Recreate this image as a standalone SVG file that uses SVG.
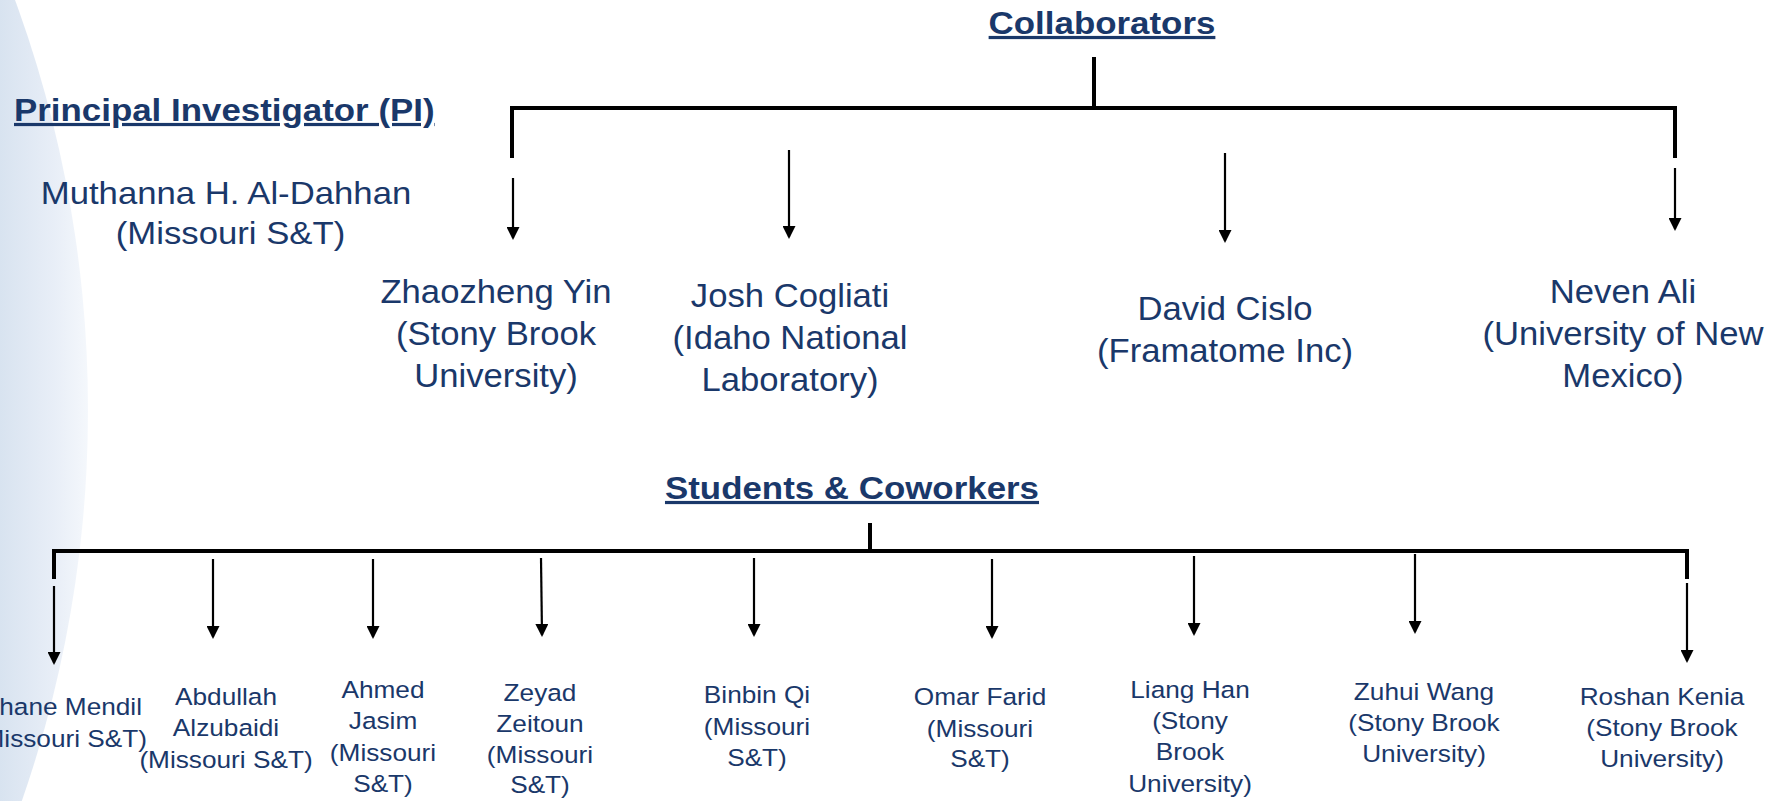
<svg xmlns="http://www.w3.org/2000/svg" width="1771" height="801" viewBox="0 0 1771 801">
  <style>
    .t { font-family: "Liberation Sans", Arial, sans-serif; fill: #1a386a; text-anchor: middle; }
    .hd { font-size: 32px; font-weight: bold; text-decoration: underline; }
    .pi { font-size: 31px; }
    .lg { font-size: 33px; }
    .sm { font-size: 24.5px; }
    .bar { fill: none; stroke: #000; stroke-width: 4; }
    .arr { stroke: #000; stroke-width: 2.2; marker-end: url(#head); }
  </style>
  <defs>
    <linearGradient id="wash" x1="0" y1="0" x2="90" y2="0" gradientUnits="userSpaceOnUse">
      <stop offset="0" stop-color="#d8e3f0"/>
      <stop offset="0.6" stop-color="#e8eef7"/>
      <stop offset="1" stop-color="#f5f8fc"/>
    </linearGradient>
    <marker id="head" markerUnits="userSpaceOnUse" markerWidth="13" markerHeight="13" refX="11" refY="6.5" orient="auto">
      <path d="M0,0 L13,6.5 L0,13 Z" fill="#000"/>
    </marker>
  </defs>

  <!-- page background with soft blue side wash -->
  <rect width="1771" height="801" fill="#fff"/>
  <circle cx="-1100" cy="410" r="1188" fill="url(#wash)"/>

  <!-- headers -->
  <g id="hdr-pi" class="t hd" transform="translate(14 121) scale(1.09 1)">
    <text x="0" y="0" style="text-anchor:start">Principal Investigator (PI)</text>
  </g>
  <g id="hdr-collab" class="t hd" transform="translate(1102 34) scale(1.09 1)">
    <text x="0" y="0">Collaborators</text>
  </g>
  <g id="hdr-students" class="t hd" transform="translate(852 499) scale(1.09 1)">
    <text x="0" y="0">Students &amp; Coworkers</text>
  </g>

  <!-- principal investigator -->
  <g id="n-aldahhan" class="t pi" transform="translate(226 204) scale(1.12 1)">
    <text><tspan x="0" y="0">Muthanna H. Al-Dahhan</tspan><tspan x="4" y="40">(Missouri S&amp;T)</tspan></text>
  </g>

  <!-- collaborators -->
  <g id="n-yin" class="t lg" transform="translate(496 303) scale(1.05 1)">
    <text><tspan x="0" y="0">Zhaozheng Yin</tspan><tspan x="0" y="42">(Stony Brook</tspan><tspan x="0" y="84">University)</tspan></text>
  </g>
  <g id="n-cogliati" class="t lg" transform="translate(790 307) scale(1.05 1)">
    <text><tspan x="0" y="0">Josh Cogliati</tspan><tspan x="0" y="42">(Idaho National</tspan><tspan x="0" y="84">Laboratory)</tspan></text>
  </g>
  <g id="n-cislo" class="t lg" transform="translate(1225 320) scale(1.05 1)">
    <text><tspan x="0" y="0">David Cislo</tspan><tspan x="0" y="42">(Framatome Inc)</tspan></text>
  </g>
  <g id="n-ali" class="t lg" transform="translate(1623 303) scale(1.05 1)">
    <text><tspan x="0" y="0">Neven Ali</tspan><tspan x="0" y="42">(University of New</tspan><tspan x="0" y="84">Mexico)</tspan></text>
  </g>

  <!-- students and coworkers -->
  <g id="n-mendil" class="t sm">
    <text transform="translate(142 715) scale(1.07 1)" style="text-anchor:end">hane Mendil</text>
    <text transform="translate(147 747) scale(1.07 1)" style="text-anchor:end">(Missouri S&amp;T)</text>
  </g>
  <g id="n-alzubaidi" class="t sm" transform="translate(226 705) scale(1.07 1)">
    <text><tspan x="0" y="0">Abdullah</tspan><tspan x="0" y="31.5">Alzubaidi</tspan><tspan x="0" y="63">(Missouri S&amp;T)</tspan></text>
  </g>
  <g id="n-jasim" class="t sm" transform="translate(383 698) scale(1.07 1)">
    <text><tspan x="0" y="0">Ahmed</tspan><tspan x="0" y="31.5">Jasim</tspan><tspan x="0" y="63">(Missouri</tspan><tspan x="0" y="94">S&amp;T)</tspan></text>
  </g>
  <g id="n-zeitoun" class="t sm" transform="translate(540 701) scale(1.07 1)">
    <text><tspan x="0" y="0">Zeyad</tspan><tspan x="0" y="31.5">Zeitoun</tspan><tspan x="0" y="62">(Missouri</tspan><tspan x="0" y="92.5">S&amp;T)</tspan></text>
  </g>
  <g id="n-qi" class="t sm" transform="translate(757 703) scale(1.07 1)">
    <text><tspan x="0" y="0">Binbin Qi</tspan><tspan x="0" y="32">(Missouri</tspan><tspan x="0" y="63">S&amp;T)</tspan></text>
  </g>
  <g id="n-farid" class="t sm" transform="translate(980 705) scale(1.07 1)">
    <text><tspan x="0" y="0">Omar Farid</tspan><tspan x="0" y="32">(Missouri</tspan><tspan x="0" y="62">S&amp;T)</tspan></text>
  </g>
  <g id="n-han" class="t sm" transform="translate(1190 698) scale(1.07 1)">
    <text><tspan x="0" y="0">Liang Han</tspan><tspan x="0" y="31">(Stony</tspan><tspan x="0" y="62">Brook</tspan><tspan x="0" y="94">University)</tspan></text>
  </g>
  <g id="n-wang" class="t sm" transform="translate(1424 700) scale(1.07 1)">
    <text><tspan x="0" y="0">Zuhui Wang</tspan><tspan x="0" y="31">(Stony Brook</tspan><tspan x="0" y="62">University)</tspan></text>
  </g>
  <g id="n-kenia" class="t sm" transform="translate(1662 705) scale(1.07 1)">
    <text><tspan x="0" y="0">Roshan Kenia</tspan><tspan x="0" y="31">(Stony Brook</tspan><tspan x="0" y="62">University)</tspan></text>
  </g>

  <!-- connectors -->
  <g id="connectors">
    <!-- collaborators bracket -->
    <line class="bar" x1="1094" y1="57" x2="1094" y2="108"/>
    <path class="bar" d="M512,158 V108 H1675 V158"/>
    <line class="arr" x1="513" y1="178" x2="513" y2="238"/>
    <line class="arr" x1="789" y1="150" x2="789" y2="237"/>
    <line class="arr" x1="1225" y1="153" x2="1225" y2="241"/>
    <line class="arr" x1="1675" y1="168" x2="1675" y2="229"/>

    <!-- students bracket -->
    <line class="bar" x1="870" y1="523" x2="870" y2="551"/>
    <path class="bar" d="M54,579 V551 H1687 V579"/>
    <line class="arr" x1="54" y1="586" x2="54" y2="663"/>
    <line class="arr" x1="213" y1="559" x2="213" y2="637"/>
    <line class="arr" x1="373" y1="559" x2="373" y2="637"/>
    <line class="arr" x1="541" y1="558" x2="542" y2="635"/>
    <line class="arr" x1="754" y1="558" x2="754" y2="635"/>
    <line class="arr" x1="992" y1="559" x2="992" y2="637"/>
    <line class="arr" x1="1194" y1="556" x2="1194" y2="634"/>
    <line class="arr" x1="1415" y1="554" x2="1415" y2="632"/>
    <line class="arr" x1="1687" y1="583" x2="1687" y2="661"/>
  </g>
</svg>
